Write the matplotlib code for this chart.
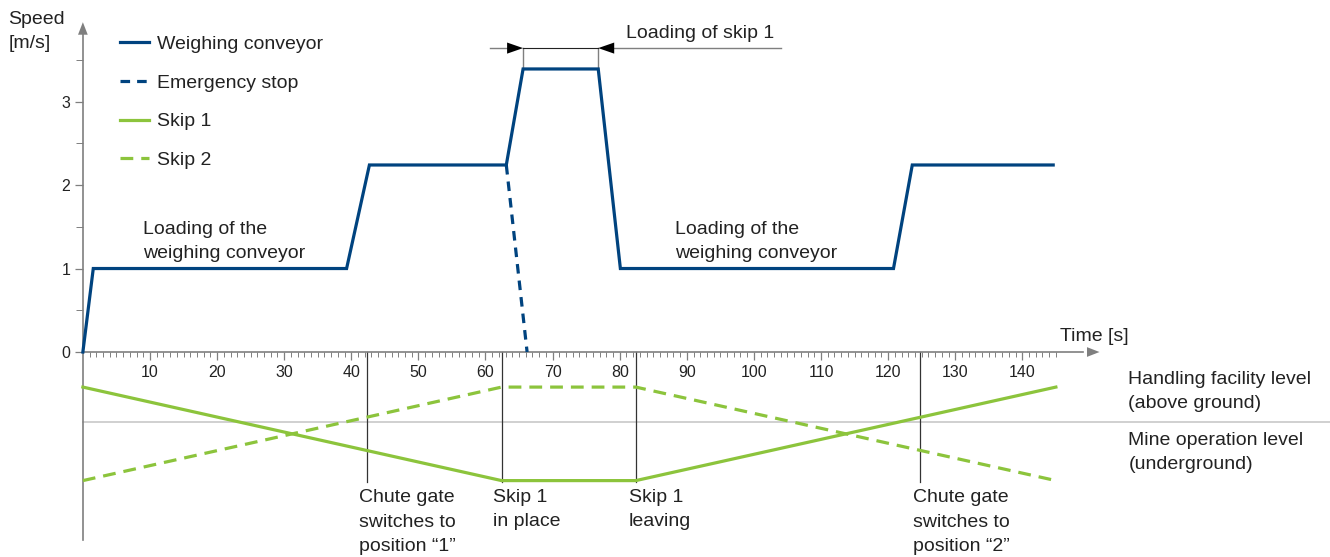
import matplotlib
matplotlib.use('Agg')
import matplotlib.pyplot as plt

# data
conv_t = [0, 1.55, 39.3, 42.7, 63.1, 65.6, 76.8, 80.1, 120.8, 123.6, 144.6]
conv_v = [0, 1.0, 1.0, 2.24, 2.24, 3.39, 3.39, 1.0, 1.0, 2.24, 2.24]
stop_t = [63.1, 66.2]
stop_v = [2.24, 0]
skip1_t = [0, 62.4, 82.4, 145]
skip1_y = [-0.42, -1.54, -1.54, -0.42]
skip2_t = [0, 62.4, 82.4, 145]
skip2_y = [-1.54, -0.42, -0.42, -1.54]
events_t = [42.4, 62.4, 82.4, 124.8]
events_labels = ['Chute gate\nswitches to\nposition \u201c1\u201d', 'Skip 1\nin place',
                 'Skip 1\nleaving', 'Chute gate\nswitches to\nposition \u201c2\u201d']
xticks = list(range(10, 150, 10))
yticks = [0, 1, 2, 3]

BLUE = '#00437f'
GREEN = '#8cc43c'
GRAY = '#7f7f7f'

plt.rcParams['font.family'] = ['Liberation Sans', 'DejaVu Sans']

fig = plt.figure(figsize=(13.3, 5.57), dpi=100)
ax = fig.add_axes([0, 0, 1, 1])
ax.set_xlim(-12.35, 185.85)
ax.set_ylim(-2.455, 4.216)

for s in ['top', 'right']:
    ax.spines[s].set_visible(False)
ax.spines['left'].set_position(('data', 0))
ax.spines['bottom'].set_position(('data', 0))
ax.spines['left'].set_bounds(-2.25, 3.9)
ax.spines['bottom'].set_bounds(0, 149)
for s in ['left', 'bottom']:
    ax.spines[s].set_color(GRAY)
    ax.spines[s].set_linewidth(1.2)

ax.set_xticks(xticks)
ax.set_xticks(range(1, 146), minor=True)
ax.set_yticks(yticks)
ax.set_yticks([0.5, 1.5, 2.5, 3.5], minor=True)
ax.tick_params(which='major', length=6, width=0.9, color=GRAY, labelsize=11.5, pad=3, labelcolor='#222222')
ax.tick_params(which='minor', length=3.5, width=0.7, color=GRAY)
ax.tick_params(axis='y', which='minor', length=5)

# axis arrows
ax.annotate('', xy=(151.5, 0), xytext=(148, 0),
            arrowprops=dict(arrowstyle='-|>,head_length=0.9,head_width=0.35', color=GRAY, lw=0, mutation_scale=10, shrinkA=0, shrinkB=0))
ax.annotate('', xy=(0, 3.95), xytext=(0, 3.8),
            arrowprops=dict(arrowstyle='-|>,head_length=0.9,head_width=0.35', color=GRAY, lw=0, mutation_scale=10, shrinkA=0, shrinkB=0))

# level separator
ax.plot([0, 190], [-0.835, -0.835], color='#c8c8c8', lw=1.2, zorder=1)

# event markers
for t in events_t:
    ax.plot([t, t], [0, -1.56], color='#333333', lw=0.9, zorder=2)

# skips
ax.plot(skip1_t, skip1_y, color=GREEN, lw=2.3, zorder=3, label='Skip 1')
ax.plot(skip2_t, skip2_y, color=GREEN, lw=2.3, dashes=(4, 2.5), zorder=3, label='Skip 2')

# conveyor
ax.plot(conv_t, conv_v, color=BLUE, lw=2.3, zorder=4, label='Weighing conveyor', solid_joinstyle='miter')
ax.plot(stop_t, stop_v, color=BLUE, lw=2.3, dashes=(3, 2.2), zorder=4, label='Emergency stop')

# dimension "Loading of skip 1"
dy = 3.64
ax.plot([conv_t[5], conv_t[5]], [conv_v[5], dy], color=GRAY, lw=1)
ax.plot([conv_t[6], conv_t[6]], [conv_v[6], dy], color=GRAY, lw=1)
ax.plot([conv_t[5], conv_t[6]], [dy, dy], color='#222222', lw=0.8)
ax.plot([60.7, 63.5], [dy, dy], color=GRAY, lw=1)
ax.plot([79.0, 104.0], [dy, dy], color=GRAY, lw=1)
ax.annotate('', xy=(conv_t[5], dy), xytext=(conv_t[5] - 2.4, dy),
            arrowprops=dict(arrowstyle='-|>,head_length=1.15,head_width=0.4', color='black', lw=0, mutation_scale=10, shrinkA=0, shrinkB=0))
ax.annotate('', xy=(conv_t[6], dy), xytext=(conv_t[6] + 2.4, dy),
            arrowprops=dict(arrowstyle='-|>,head_length=1.15,head_width=0.4', color='black', lw=0, mutation_scale=10, shrinkA=0, shrinkB=0))

fs = 14
tc = '#222222'
ls = 1.55
ax.text(80.9, 3.82, 'Loading of skip 1', fontsize=fs, color=tc, va='center')
ax.text(-11.1, 3.84, 'Speed\n[m/s]', fontsize=fs, color=tc, va='center', linespacing=ls)
ax.text(8.9, 1.32, 'Loading of the\nweighing conveyor', fontsize=fs, color=tc, va='center', linespacing=ls)
ax.text(88.2, 1.32, 'Loading of the\nweighing conveyor', fontsize=fs, color=tc, va='center', linespacing=ls)
ax.text(145.6, 0.18, 'Time [s]', fontsize=fs, color=tc, va='center')
ax.text(155.8, -0.47, 'Handling facility level\n(above ground)', fontsize=fs, color=tc, va='center', linespacing=ls)
ax.text(155.8, -1.20, 'Mine operation level\n(underground)', fontsize=fs, color=tc, va='center', linespacing=ls)
lefts = [41.1, 61.1, 81.4, 123.7]
for x, lab in zip(lefts, events_labels):
    yc = -2.036 if lab.count('\n') == 2 else -1.886
    ax.text(x, yc, lab, fontsize=fs, color=tc, va='center', linespacing=ls)

h, l = ax.get_legend_handles_labels()
order = [2, 3, 0, 1]
ax.legend([h[i] for i in order], [l[i] for i in order], loc='upper left',
          bbox_to_anchor=(0.0902, 0.936), frameon=False, fontsize=fs, handlelength=1.5,
          handletextpad=0.4, labelspacing=1.08, borderpad=0, borderaxespad=0, labelcolor=tc)

fig.savefig('out.png', dpi=100)
